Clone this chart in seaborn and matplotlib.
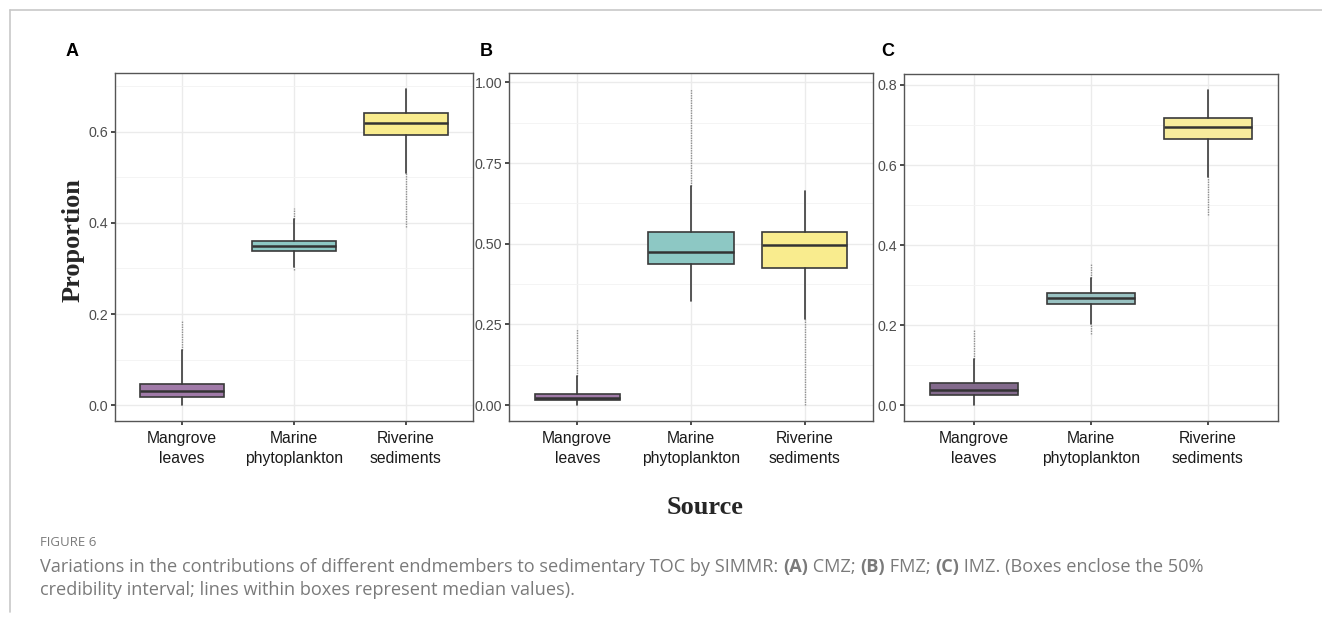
import matplotlib
matplotlib.use("Agg")
import matplotlib.pyplot as plt
from matplotlib.lines import Line2D
from matplotlib.ticker import FixedLocator, FormatStrFormatter
import seaborn as sns
import numpy as np

sns.set_theme(style="whitegrid")
plt.rcParams['font.family'] = ['Liberation Sans', 'DejaVu Sans']

categories = ["Mangrove\nleaves", "Marine\nphytoplankton", "Riverine\nsediments"]
panel_labels = ["A", "B", "C"]

# Panel A (CMZ)
a_q1 = [0.018, 0.338, 0.593]
a_med = [0.031, 0.349, 0.619]
a_q3 = [0.047, 0.361, 0.640]
a_wlo = [0.000, 0.304, 0.509]
a_whi = [0.122, 0.408, 0.694]
a_flo = [0.000, 0.297, 0.390]
a_fhi = [0.184, 0.432, 0.694]

# Panel B (FMZ)
b_q1 = [0.015, 0.438, 0.425]
b_med = [0.023, 0.476, 0.495]
b_q3 = [0.036, 0.537, 0.537]
b_wlo = [0.000, 0.322, 0.266]
b_whi = [0.090, 0.678, 0.662]
b_flo = [0.000, 0.322, 0.000]
b_fhi = [0.235, 0.980, 0.662]

# Panel C (IMZ)
c_q1 = [0.025, 0.2525, 0.665]
c_med = [0.039, 0.267, 0.694]
c_q3 = [0.055, 0.280, 0.717]
c_wlo = [0.000, 0.203, 0.571]
c_whi = [0.115, 0.318, 0.788]
c_flo = [0.000, 0.177, 0.476]
c_fhi = [0.190, 0.356, 0.788]

a_ticks = [0.0, 0.2, 0.4, 0.6]
b_ticks = [0.00, 0.25, 0.50, 0.75, 1.00]
c_ticks = [0.0, 0.2, 0.4, 0.6, 0.8]

colors_ab = ["#A07AA8", "#8DC8C4", "#F9EC8E"]
colors_c = ["#836A8C", "#99C2C2", "#F7EC9D"]

panels = [
    (a_q1, a_med, a_q3, a_wlo, a_whi, a_flo, a_fhi, a_ticks, "%.1f", colors_ab),
    (b_q1, b_med, b_q3, b_wlo, b_whi, b_flo, b_fhi, b_ticks, "%.2f", colors_ab),
    (c_q1, c_med, c_q3, c_wlo, c_whi, c_flo, c_fhi, c_ticks, "%.1f", colors_c),
]

W, H = 1322, 622
fig = plt.figure(figsize=(W / 100, H / 100), dpi=100)
fig.patch.set_facecolor("white")

# axes boxes in pixels: left, right, top, bottom
ax_px = [(115, 473, 73, 421), (509, 873, 73, 421), (904, 1278, 74, 421)]
label_px = [(72, 52), (486, 52), (888, 52)]

for i, (q1, med, q3, wlo, whi, flo, fhi, ticks, fmt, cols) in enumerate(panels):
    l, r, t, b = ax_px[i]
    ax = fig.add_axes([l / W, 1 - b / H, (r - l) / W, (b - t) / H])
    ax.set_facecolor("white")
    stats = []
    for j in range(3):
        stats.append(dict(med=med[j], q1=q1[j], q3=q3[j], whislo=wlo[j],
                          whishi=whi[j], fliers=[], label=categories[j]))
    bp = ax.bxp(stats, positions=range(3), widths=0.75, patch_artist=True,
                showfliers=False, showcaps=False,
                boxprops=dict(edgecolor="#3a3a3a", linewidth=1.2),
                medianprops=dict(color="#333333", linewidth=1.8),
                whiskerprops=dict(color="#3a3a3a", linewidth=1.2),
                zorder=3)
    for patch, c in zip(bp["boxes"], cols):
        patch.set_facecolor(c)
    # outlier extent (dense points) shown as dotted lines
    ax.vlines(range(3), flo, wlo, colors="#555555", linestyles=(0, (1, 0.8)),
              linewidth=1.0, alpha=0.6, zorder=2)
    ax.vlines(range(3), whi, fhi, colors="#555555", linestyles=(0, (1, 0.8)),
              linewidth=1.0, alpha=0.6, zorder=2)

    lo = min(flo + wlo)
    hi = max(fhi + whi)
    rng = hi - lo
    ax.set_ylim(lo - 0.05 * rng, hi + 0.05 * rng)
    ax.set_xlim(-0.6, 2.6)
    ax.set_xticks(range(3))
    ax.set_xticklabels(categories, fontsize=11.3, color="#1a1a1a", linespacing=1.45)
    ax.yaxis.set_major_locator(FixedLocator(ticks))
    ax.yaxis.set_major_formatter(FormatStrFormatter(fmt))
    step = ticks[1] - ticks[0]
    minors = [tk + step / 2 for tk in ticks] + [ticks[0] - step / 2]
    ax.yaxis.set_minor_locator(FixedLocator(minors))
    ax.tick_params(axis="y", labelsize=10.3, labelcolor="#4d4d4d", length=3,
                   color="#333333", pad=2, left=True, which="major")
    ax.tick_params(axis="x", length=3, color="#333333", pad=4, bottom=True)
    ax.grid(True, which="major", color="#ebebeb", linewidth=1.0)
    ax.grid(True, which="minor", axis="y", color="#f3f3f3", linewidth=0.6)
    ax.set_axisbelow(True)
    for s in ax.spines.values():
        s.set_edgecolor("#555555")
        s.set_linewidth(1.0)
        s.set_visible(True)
    fig.text(label_px[i][0] / W, 1 - label_px[i][1] / H, panel_labels[i],
             fontsize=13, fontweight="bold", color="black", ha="center", va="center")

fig.text(73 / W, 1 - 240 / H, "Proportion", rotation=90, fontsize=19,
         fontweight="bold", family="Liberation Serif", ha="center", va="center")
fig.text(705 / W, 1 - 508 / H, "Source", fontsize=19, fontweight="bold",
         family="Liberation Serif", ha="center", va="center")

# frame lines
fig.add_artist(Line2D([10 / W, 1], [1 - 10 / H, 1 - 10 / H], color="#c8c8c8", lw=1.2))
fig.add_artist(Line2D([10 / W, 10 / W], [1 - 10 / H, 1 - 612 / H], color="#c8c8c8", lw=1.2))

# caption
cap_color = "#7a7a7a"
fig.text(40 / W, 1 - 543 / H, "FIGURE 6", fontsize=9.5, color=cap_color,
         family="Open Sans", ha="left", va="center")

fig.canvas.draw()
renderer = fig.canvas.get_renderer()
pieces = [("Variations in the contributions of different endmembers to sedimentary TOC by SIMMR: ", "normal"),
          ("(A)", "bold"), (" CMZ; ", "normal"), ("(B)", "bold"), (" FMZ; ", "normal"),
          ("(C)", "bold"), (" IMZ. (Boxes enclose the 50%", "normal")]
x = 40.0
for txt, wt in pieces:
    tobj = fig.text(x / W, 1 - 567 / H, txt, fontsize=13.1, color=cap_color,
                    family="Open Sans", fontweight=wt, ha="left", va="center")
    bb = tobj.get_window_extent(renderer)
    x += bb.width
fig.text(40 / W, 1 - 590 / H,
         "credibility interval; lines within boxes represent median values).",
         fontsize=13.1, color=cap_color, family="Open Sans", ha="left", va="center")

fig.savefig("out.png", dpi=100, facecolor="white")
